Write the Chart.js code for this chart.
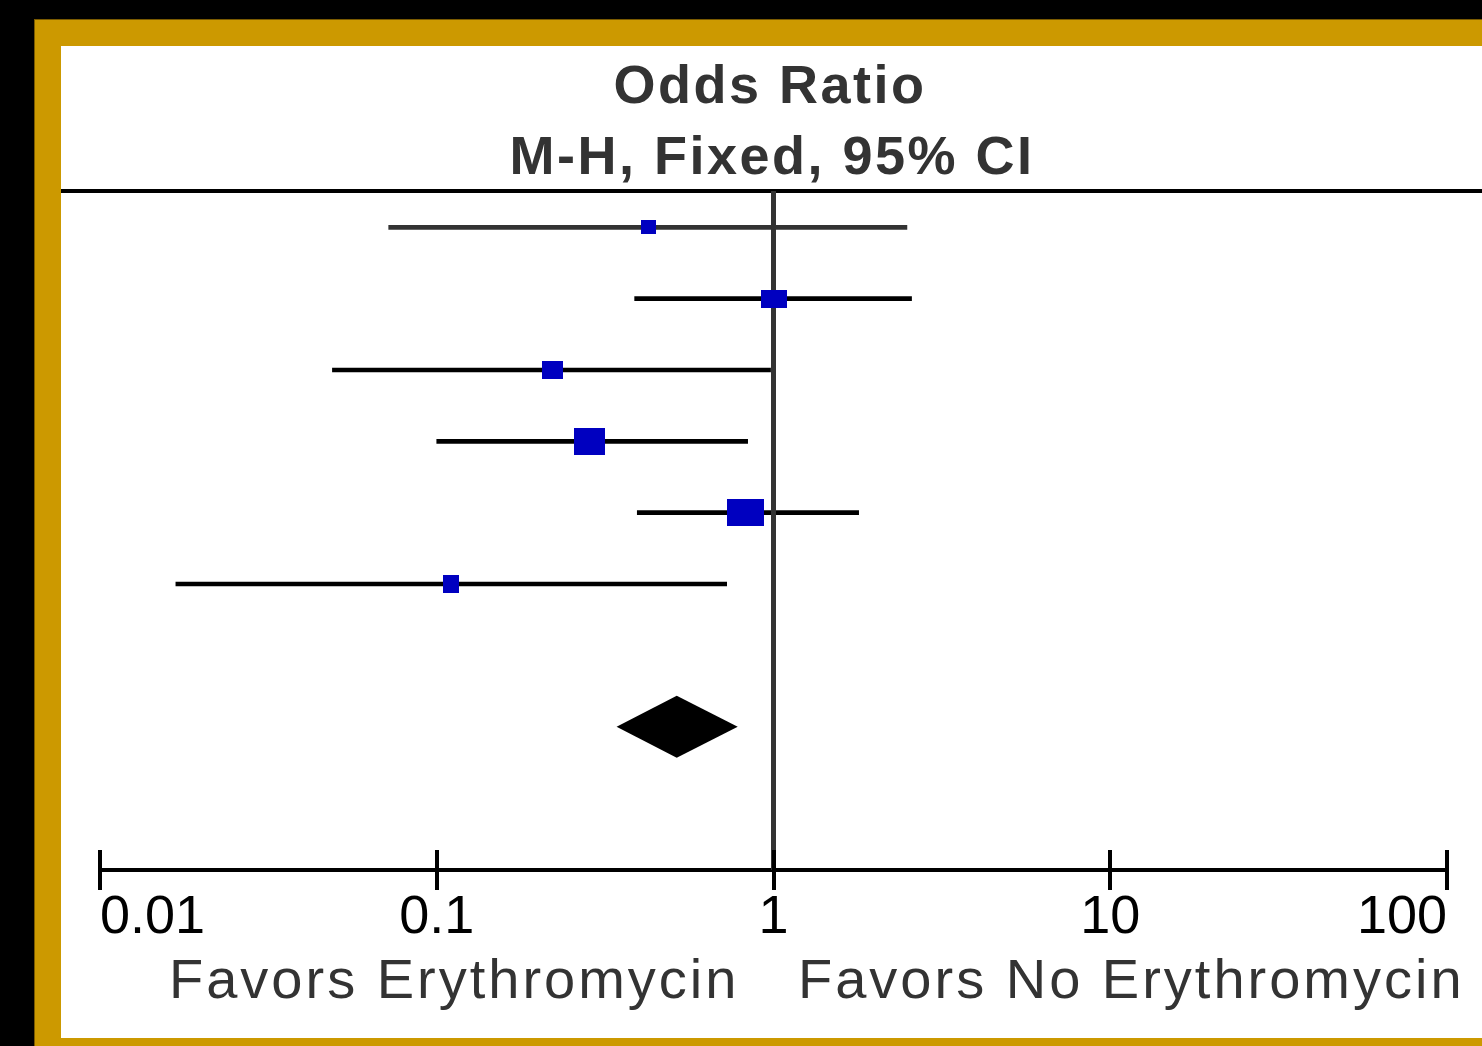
<!DOCTYPE html>
<html>
<head>
<meta charset="utf-8">
<title>Odds Ratio forest plot</title>
<script src="https://cdn.jsdelivr.net/npm/chart.js@4.4.0/dist/chart.umd.min.js"></script>
<style>
  html, body { margin: 0; padding: 0; background: #000; width: 1482px; height: 1046px; overflow: hidden; }
  #frame { position: absolute; left: 34px; top: 19px; width: 1448px; height: 1027px; background: #cc9900;
           border-left: 1px solid #7a5a00; border-top: 1px solid #7a5a00; box-sizing: border-box; }
  #panel { position: absolute; left: 61px; top: 46px; width: 1421px; height: 992px; background: #fff; }
  #rule { position: absolute; left: 61px; top: 189px; width: 1421px; height: 4px; background: #000; }
  .txt { position: absolute; font-family: "Liberation Sans", Arial, sans-serif; color: #333; white-space: nowrap; line-height: 1; }
  .title { font-weight: bold; font-size: 54px; letter-spacing: 2.5px; transform: translateX(-50%); }
  .foot { font-size: 56px; letter-spacing: 3px; }
  canvas { position: absolute; left: 0; top: 0; }
</style>
</head>
<body>
<div id="frame"></div>
<div id="panel"></div>
<div id="rule"></div>
<div class="txt title" style="left:770px; top:57px;">Odds Ratio</div>
<div class="txt title" style="left:772px; top:128px;">M-H, Fixed, 95% CI</div>
<div class="txt foot" style="left:169px; top:951px;">Favors Erythromycin</div>
<div class="txt foot" style="left:798px; top:951px;">Favors No Erythromycin</div>
<canvas id="chart" width="1482" height="1046"></canvas>

<script>
// study rows (top to bottom) and their odds ratios with 95% CI
const rows = [1, 2, 3, 4, 5, 6];
const oddsRatio = [0.424, 1.00, 0.221, 0.285, 0.824, 0.110];
const ciLower = [0.072, 0.387, 0.049, 0.100, 0.394, 0.0168];
const ciUpper = [2.49, 2.57, 0.98, 0.838, 1.79, 0.726];

// pooled estimate (diamond)
const summaryRow = 8;
const summaryOR = 0.516;
const summaryLower = 0.342;
const summaryUpper = 0.783;

// x axis
const tickValues = [0.01, 0.1, 1, 10, 100];
const tickLabels = ["0.01", "0.1", "1", "10", "100"];

// styles: box sizes (width, height) per study, CI line colours
const boxSizes = [[15, 14], [26, 18], [21, 18], [31, 27], [37, 27], [16, 18]];
const ciColors = ["#333333", "#000000", "#000000", "#000000", "#000000", "#000000"];
const boxColor = "#0000c0";

function makeBox(w, h) {
    const c = document.createElement("canvas");
    c.width = w;
    c.height = h;
    const g = c.getContext("2d");
    g.fillStyle = boxColor;
    g.fillRect(0, 0, w, h);
    return c;
}

// null line at OR = 1, drawn over the CI lines but under the boxes
const refLine = {
    id: "refLine",
    beforeDatasetDraw(chart, args) {
        if (args.index !== 0) return;
        const { ctx, chartArea, scales } = chart;
        const px = scales.x.getPixelForValue(1);
        ctx.save();
        ctx.strokeStyle = "#333333";
        ctx.lineWidth = 5;
        ctx.beginPath();
        ctx.moveTo(px, chartArea.top);
        ctx.lineTo(px, chartArea.bottom);
        ctx.stroke();
        ctx.restore();
    }
};

// upper half of the axis tick marks
const tickUp = {
    id: "tickUp",
    afterDraw(chart) {
        const { ctx, chartArea, scales } = chart;
        ctx.save();
        ctx.strokeStyle = "#000";
        ctx.lineWidth = 4;
        scales.x.ticks.forEach(t => {
            const px = Math.round(scales.x.getPixelForValue(t.value));
            ctx.beginPath();
            ctx.moveTo(px, chartArea.bottom - 20);
            ctx.lineTo(px, chartArea.bottom);
            ctx.stroke();
        });
        ctx.restore();
    }
};

// pooled diamond
const diamond = {
    id: "diamond",
    afterDatasetsDraw(chart) {
        const { ctx, scales } = chart;
        const y = scales.y.getPixelForValue(summaryRow);
        const xl = scales.x.getPixelForValue(summaryLower);
        const xm = scales.x.getPixelForValue(summaryOR);
        const xr = scales.x.getPixelForValue(summaryUpper);
        const half = 31;
        ctx.save();
        ctx.fillStyle = "#000";
        ctx.beginPath();
        ctx.moveTo(xl, y);
        ctx.lineTo(xm, y - half);
        ctx.lineTo(xr, y);
        ctx.lineTo(xm, y + half);
        ctx.closePath();
        ctx.fill();
        ctx.restore();
    }
};

const chart = new Chart(document.getElementById("chart"), {
    type: "scatter",
    data: {
        datasets: [
            {
                label: "Odds ratio",
                data: rows.map((r, i) => ({ x: oddsRatio[i], y: r })),
                pointStyle: boxSizes.map(s => makeBox(s[0], s[1])),
                pointRadius: 5,
                order: 0
            },
            {
                type: "bar",
                label: "95% CI",
                indexAxis: "y",
                data: rows.map((r, i) => ({ y: r, x: [ciLower[i], ciUpper[i]] })),
                backgroundColor: ciColors,
                borderWidth: 0,
                barThickness: 4,
                order: 1
            }
        ]
    },
    options: {
        responsive: false,
        devicePixelRatio: 1,
        animation: false,
        layout: { padding: { left: 100, right: 35, top: 191, bottom: 0 } },
        plugins: { legend: { display: false }, tooltip: { enabled: false } },
        scales: {
            x: {
                type: "logarithmic",
                min: 0.01,
                max: 100,
                offset: false,
                afterBuildTicks: scale => { scale.ticks = tickValues.map(v => ({ value: v })); },
                afterFit: scale => { scale.height = 176; },
                border: { display: true, color: "#000", width: 4 },
                grid: { drawOnChartArea: false, drawTicks: true, tickLength: 20, lineWidth: 4, color: "#000", offset: false },
                ticks: {
                    align: "inner",
                    maxRotation: 0,
                    autoSkip: false,
                    padding: -4,
                    color: "#000",
                    font: { family: "'Liberation Sans', Arial, sans-serif", size: 54 },
                    callback: (v, i) => tickLabels[i]
                }
            },
            y: {
                type: "linear",
                reverse: true,
                offset: false,
                grace: 0,
                min: 0.49,
                max: 10.01,
                display: false
            }
        }
    },
    plugins: [refLine, tickUp, diamond]
});
</script>
</body>
</html>
